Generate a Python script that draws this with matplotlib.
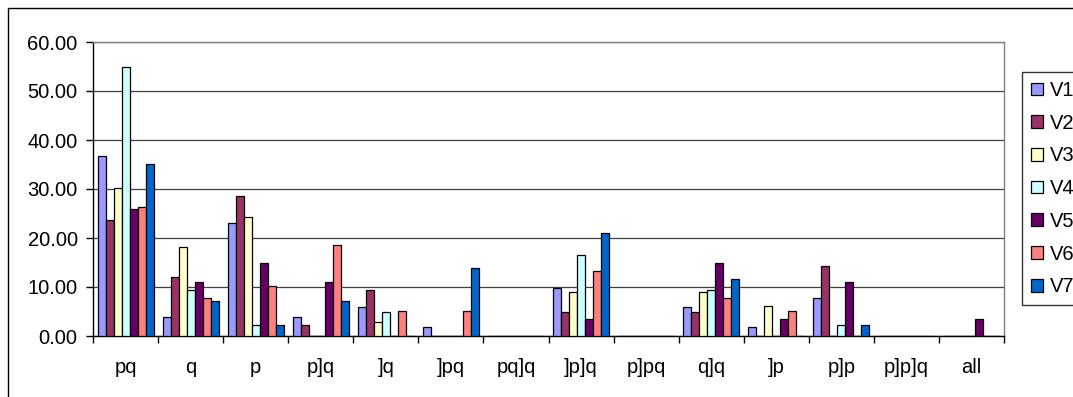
import matplotlib
matplotlib.use("Agg")
import matplotlib.pyplot as plt
import matplotlib.patches as patches
import numpy as np

plt.rcParams['font.family'] = ['Liberation Sans', 'DejaVu Sans']

categories = ['pq', 'q', 'p', 'p]q', ']q', ']pq', 'pq]q', ']p]q', 'p]pq',
              'q]q', ']p', 'p]p', 'p]p]q', 'all']

series_names = ['V1', 'V2', 'V3', 'V4', 'V5', 'V6', 'V7']
V1 = [36.7, 3.8, 23.1, 3.8, 5.9, 1.9, 0, 9.7, 0, 5.9, 1.9, 7.8, 0, 0]
V2 = [23.7, 12.0, 28.6, 2.2, 9.4, 0, 0, 4.8, 0, 4.8, 0, 14.3, 0, 0]
V3 = [30.2, 18.2, 24.3, 0, 2.9, 0, 0, 9.0, 0, 9.0, 6.2, 0, 0, 0]
V4 = [55.0, 9.4, 2.2, 0, 4.8, 0, 0, 16.5, 0, 9.4, 0, 2.2, 0, 0]
V5 = [26.0, 11.0, 14.9, 11.0, 0, 0, 0, 3.5, 0, 14.9, 3.5, 11.0, 0, 3.5]
V6 = [26.3, 7.7, 10.3, 18.5, 5.2, 5.2, 0, 13.3, 0, 7.7, 5.2, 0, 0, 0]
V7 = [35.1, 7.1, 2.2, 7.1, 0, 13.9, 0, 21.1, 0, 11.7, 0, 2.2, 0, 0]
values = [V1, V2, V3, V4, V5, V6, V7]

colors = ['#9999FF', '#993366', '#FFFFCC', '#CCFFFF', '#660066', '#FF8080', '#0066CC']

W, H = 1073, 397
fig = plt.figure(figsize=(W / 100, H / 100), dpi=100)

# outer chart frame (runs off the right and bottom edges)
fig.patches.append(patches.Rectangle((8 / W, -0.1), 1.2, (H - 8) / H + 0.1,
                                     transform=fig.transFigure, fill=False,
                                     edgecolor='black', linewidth=1.0))

ax = fig.add_axes([93 / W, (H - 336) / H, 911 / W, 294 / H])

n = len(series_names)
bw = 0.123
start = (1 - n * bw) / 2
x = np.arange(len(categories))
for k in range(n):
    ax.bar(x + start + k * bw, values[k], width=bw, align='edge',
           color=colors[k], edgecolor='black', linewidth=0.9,
           label=series_names[k], zorder=3)

ax.set_xlim(0, len(categories))
ax.set_ylim(0, 60)
ax.set_yticks(np.arange(0, 61, 10))
ax.set_yticklabels(['%.2f' % v for v in np.arange(0, 61, 10)], fontsize=14.5)
ax.tick_params(axis='y', length=5, width=1, pad=6, direction='out')

ax.set_xticks(x + 0.5)
ax.set_xticklabels(categories, fontsize=14.5)
ax.set_xticks(np.arange(len(categories) + 1), minor=True)
ax.tick_params(axis='x', which='major', length=0, pad=16)
ax.tick_params(axis='x', which='minor', length=5, width=1, direction='out')

ax.yaxis.grid(True, color='#404040', linewidth=0.9, zorder=0)
ax.set_axisbelow(True)
for side in ['top', 'right']:
    ax.spines[side].set_color('#808080')
    ax.spines[side].set_linewidth(1.0)
for side in ['left', 'bottom']:
    ax.spines[side].set_color('black')
    ax.spines[side].set_linewidth(1.0)

leg = fig.legend(loc='upper left', bbox_to_anchor=(1022 / W, 1 - 72 / H),
                 fontsize=14.5, frameon=True, fancybox=False, handlelength=0.6,
                 handleheight=0.6, handletextpad=0.35, labelspacing=0.68,
                 borderpad=0.45, borderaxespad=0)
leg.get_frame().set_edgecolor('black')
leg.get_frame().set_linewidth(1.0)

fig.savefig('out.png', dpi=100)
